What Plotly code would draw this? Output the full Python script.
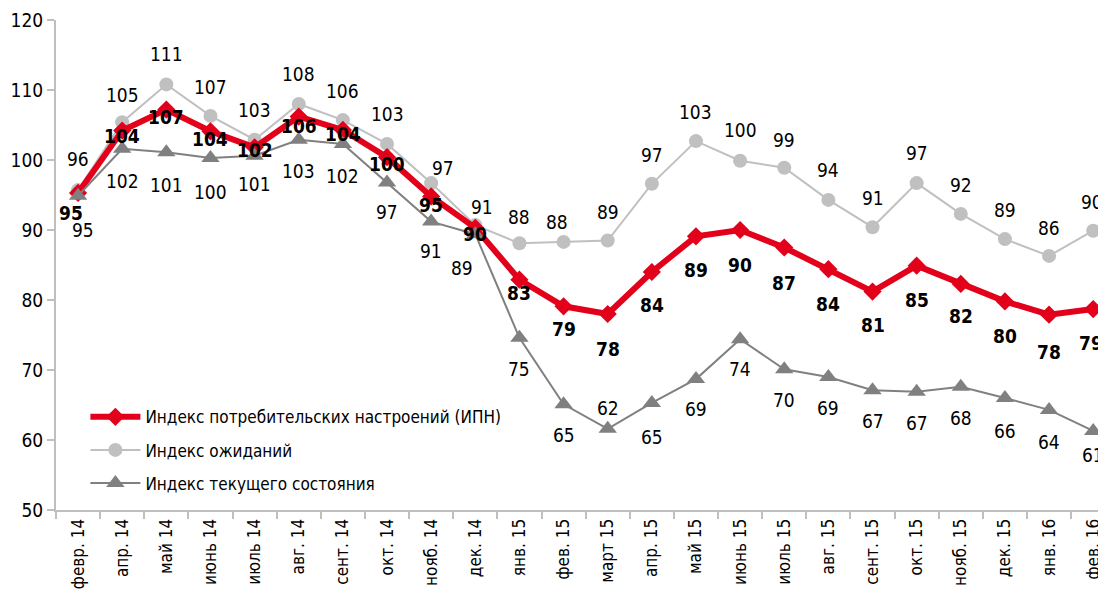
import plotly.graph_objects as go

months = ["февр. 14", "апр. 14", "май 14", "июнь 14", "июль 14", "авг. 14", "сент. 14", "окт. 14",
          "нояб. 14", "дек. 14", "янв. 15", "фев. 15", "март 15", "апр. 15", "май 15", "июнь 15",
          "июль 15", "авг. 15", "сент. 15", "окт. 15", "нояб. 15", "дек. 15", "янв. 16", "фев. 16"]

ipn = [95.3, 104.2, 107.2, 104.1, 101.8, 106.2, 104.3, 100.4, 94.8, 90.3, 82.9, 79.1, 78.0, 84.0,
       89.1, 90.0, 87.5, 84.4, 81.2, 84.9, 82.3, 79.8, 77.9, 78.7]
expect = [95.7, 105.4, 110.8, 106.3, 102.9, 108.0, 105.7, 102.3, 96.7, 90.7, 88.1, 88.3, 88.5, 96.6,
          102.7, 99.9, 98.9, 94.3, 90.4, 96.7, 92.3, 88.7, 86.3, 89.9]
current = [94.9, 101.6, 101.1, 100.3, 100.6, 102.9, 102.3, 96.8, 91.2, 89.4, 74.6, 65.1, 61.6, 65.3,
           68.7, 74.4, 70.1, 69.0, 67.1, 66.9, 67.6, 66.0, 64.3, 61.3]

ipn_labels = [95, 104, 107, 104, 102, 106, 104, 100, 95, 90, 83, 79, 78, 84, 89, 90, 87, 84, 81, 85, 82, 80, 78, 79]
expect_labels = [96, 105, 111, 107, 103, 108, 106, 103, 97, 91, 88, 88, 89, 97, 103, 100, 99, 94, 91, 97, 92, 89, 86, 90]
current_labels = [95, 102, 101, 100, 101, 103, 102, 97, 91, 89, 75, 65, 62, 65, 69, 74, 70, 69, 67, 67, 68, 66, 64, 61]

RED = "#e2001a"
LIGHT = "#c0c0c0"
DARK = "#808080"
FONT = "Liberation Sans Narrow, DejaVu Sans Condensed, Roboto, sans-serif"

# label offsets in px (xshift, yshift)
ipn_off = [(-7, -20), (0, -5), (0, -7), (0, -8), (0, -3), (0, -9), (0, -4), (0, -7), (0, -9), (0, -6),
           (0, -13), (0, -23), (0, -35), (0, -33), (0, -34), (0, -35), (0, -35), (0, -35), (0, -33),
           (0, -34), (0, -32), (0, -35), (0, -37), (-2, -34)]
exp_off = [(0, 31), (0, 27), (0, 30), (0, 29), (0, 30), (0, 30), (0, 29), (0, 30), (12, 15), (7, 18),
           (0, 26), (-7, 20), (0, 29), (0, 29), (0, 29), (0, 31), (0, 28), (0, 30), (0, 29), (0, 30),
           (0, 29), (0, 29), (0, 28), (-1, 29)]
cur_off = [(5, -34), (0, -32), (0, -33), (0, -34), (0, -28), (0, -31), (0, -32), (0, -30), (0, -29),
           (-13, -34), (0, -31), (0, -31), (0, 21), (0, -34), (0, -30), (0, -30), (0, -31), (0, -31),
           (0, -31), (0, -31), (0, -31), (0, -33), (0, -32), (0, -24)]

fig = go.Figure()
fig.add_trace(go.Scatter(x=months, y=expect, name="Индекс ожиданий", mode="lines+markers",
                         line=dict(color=LIGHT, width=2), marker=dict(symbol="circle", size=14, color=LIGHT),
                         legendrank=2, legendgroup="b"))
fig.add_trace(go.Scatter(x=months, y=ipn, name="Индекс потребительских настроений (ИПН)", mode="lines+markers",
                         line=dict(color=RED, width=6), marker=dict(symbol="diamond", size=14, color=RED),
                         legendrank=1, legendgroup="a"))
fig.add_trace(go.Scatter(x=months, y=current, name="Индекс текущего состояния", mode="lines+markers",
                         line=dict(color=DARK, width=2), marker=dict(symbol="triangle-up", size=16, color=DARK),
                         legendrank=3, legendgroup="c"))

ann = []
for vals, labs, offs, bold in [(expect, expect_labels, exp_off, False),
                               (current, current_labels, cur_off, False),
                               (ipn, ipn_labels, ipn_off, True)]:
    for m, v, t, (dx, dy) in zip(months, vals, labs, offs):
        ann.append(dict(x=m, y=v, text=f"<b>{t}</b>" if bold else str(t), showarrow=False,
                        xshift=dx, yshift=dy, font=dict(size=19, color="black", family=FONT)))

# page has an 8px body margin, so margins are shifted to compensate
fig.update_layout(
    width=1106, height=593,
    margin=dict(l=48, r=8, t=12, b=91),
    plot_bgcolor="white", paper_bgcolor="white",
    font=dict(family=FONT, size=18, color="black"),
    showlegend=True,
    legend=dict(x=0.028, y=0.226, xanchor="left", yanchor="top", bgcolor="rgba(0,0,0,0)",
                traceorder="grouped", tracegroupgap=8, font=dict(size=17), itemwidth=50),
    annotations=ann,
)
fig.update_xaxes(type="category", range=[-0.5, 23.29], automargin=False, showgrid=False, showline=True,
                 linecolor="#bfbfbf", linewidth=2, ticks="outside", tickson="boundaries", ticklen=7,
                 tickcolor="#bfbfbf", tickwidth=2, tickangle=-90, tickfont=dict(size=17))
fig.update_yaxes(range=[50, 120], dtick=10, automargin=False, showgrid=False, showline=True,
                 linecolor="#bfbfbf", linewidth=2, ticks="outside", ticklen=7, tickcolor="#bfbfbf",
                 tickwidth=2, zeroline=False, tickfont=dict(size=19))

fig.write_html("out.html")
